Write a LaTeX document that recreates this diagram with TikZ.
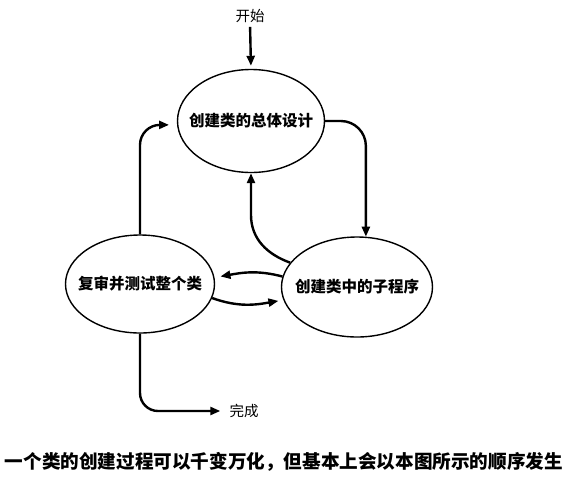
\documentclass[tikz,border=0pt]{standalone}
\usepackage{fontspec}
\setmainfont{Noto Sans CJK SC}
\usetikzlibrary{arrows.meta,shapes.geometric}
\begin{document}
\begin{tikzpicture}[x=1pt,y=-1pt,
  ell/.style={ellipse,draw,line width=1.4pt,inner sep=0pt},
  etext/.style={inner sep=0pt,font=\fontsize{15.5}{17}\selectfont\bfseries},
  lbl/.style={inner sep=0pt,font=\fontsize{14.5}{16}\selectfont},
  arr/.style={line width=2.4pt,-{Triangle[length=10pt,width=8pt]}}]
\useasboundingbox (0,0) rectangle (570,483);
\node[ell,minimum width=147pt,minimum height=103pt,label={[etext]center:创建类的总体设计}] (design) at (251,121) {};
\node[ell,minimum width=151pt,minimum height=100pt,label={[etext]center:创建类中的子程序}] (sub) at (357,287) {};
\node[ell,minimum width=149pt,minimum height=98pt,label={[etext]center:复审并测试整个类}] (review) at (140,284) {};
\node[lbl] (start) at (250,16) {开始};
\node[lbl] (done) at (244,411) {完成};
\node[inner sep=0pt,font=\fontsize{18.6}{20}\selectfont\bfseries] (caption) at (284,462) {一个类的创建过程可以千变万化，但基本上会以本图所示的顺序发生};
\draw[arr,shorten <=4pt,shorten >=3pt] (start.south) -- (design.north);
\draw[arr,rounded corners=25pt] (design.east) -| (sub.80);
\draw[arr] (sub.160) to[out=160,in=-90] (251,215) -- (design.south);
\draw[arr,shorten >=6pt] (sub.172) to[out=165,in=10] (review.5);
\draw[arr,shorten >=5pt] (review.-11) to[out=-20,in=190] (sub.190);
\draw[arr,rounded corners=20pt,shorten >=8pt] (review.north) |- (design.183);
\draw[arr,rounded corners=18pt,shorten >=9pt] (review.south) |- (done.west);
\end{tikzpicture}
\end{document}
